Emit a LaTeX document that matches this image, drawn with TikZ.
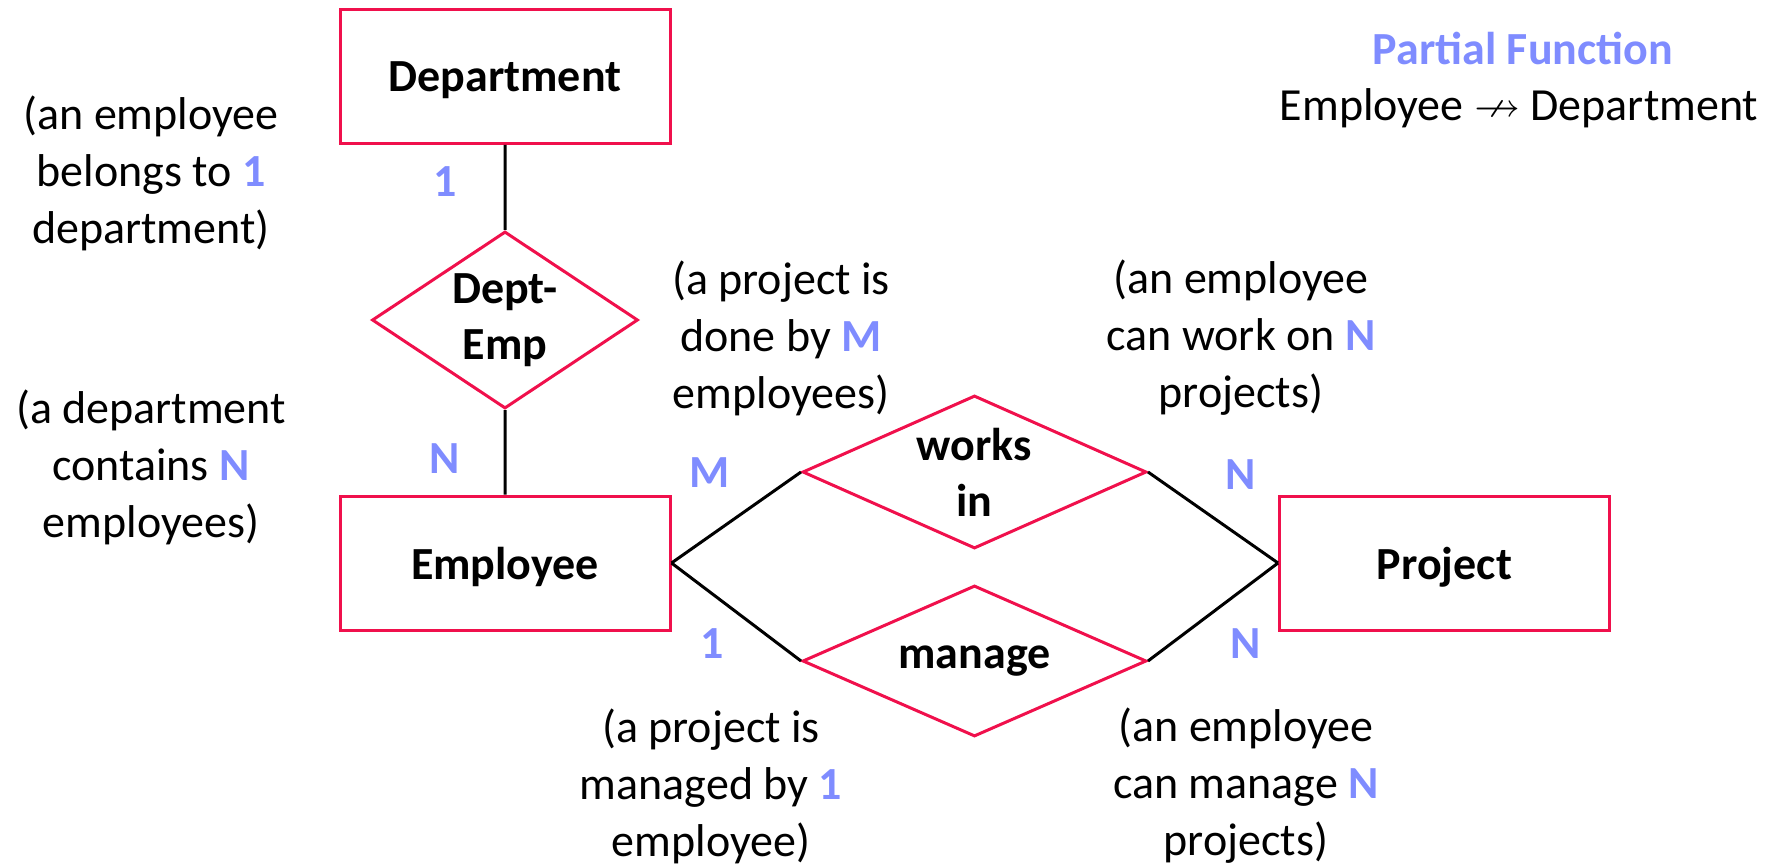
\documentclass[tikz,border=0pt]{standalone}
\usepackage{fontspec}
\setmainfont{Carlito}
\usepackage{amssymb}
\usetikzlibrary{positioning,shapes.geometric}

\definecolor{erred}{RGB}{240,16,76}
\definecolor{cardblue}{RGB}{127,140,255}
\newcommand{\bigtext}{\fontsize{46}{57}\selectfont}
\newcommand{\mult}[1]{\textcolor{cardblue}{\textbf{#1}}}

\tikzset{
  entity/.style={rectangle, draw=erred, line width=3pt, minimum width=330pt,
    minimum height=134pt, text depth=0pt, font=\bigtext\bfseries},
  relship/.style={diamond, draw=erred, line width=3pt, inner sep=0pt,
    align=center, font=\fontsize{46}{56}\selectfont\bfseries},
  note/.style={align=center, font=\bigtext},
  card/.style={text=cardblue, font=\bigtext\bfseries},
  link/.style={draw=black, line width=3pt}
}

\begin{document}
\begin{tikzpicture}[x=1pt, y=-1pt]
  \useasboundingbox (0,0) rectangle (1781,866);
  \node[entity] (dept) at (505,76.5) {Department};
  \node[relship, shape aspect=1.5, minimum width=266pt, minimum height=177pt] (deptemp) at (505,320) {Dept-\\Emp};
  \node[entity] (emp) at (505,563) {Employee};
  \node[entity] (proj) at (1444.5,563) {Project};
  \node[relship, shape aspect=2.25, minimum width=344pt, minimum height=153pt] (works) at (974.5,472) {works\\in};
  \node[relship, shape aspect=2.25, minimum width=344pt, minimum height=151pt] (manage) at (974.5,661) {manage};

  \path[link]
    (dept) -- (deptemp)
    (deptemp) -- (emp)
    (emp.east) -- (works.west)
    (emp.east) -- (manage.west)
    (proj.west) -- (works.east)
    (proj.west) -- (manage.east);

  % cardinalities
  \node[card] (c1) at (445,182) {1};
  \node[card] (c2) at (445,459) {N};
  \node[card] (c3) at (710,473) {M};
  \node[card] (c4) at (1241,475) {N};
  \node[card] (c5) at (712,644) {1};
  \node[card] (c6) at (1246,644) {N};

  % explanations
  \node[note] (n1) at (151,173) {(an employee\\belongs to \mult{1}\\department)};
  \node[note] (n2) at (151,467) {(a department\\contains \mult{N}\\employees)};
  \node[note] (n3) at (781,338) {(a project is\\done by \mult{M}\\employees)};
  \node[note] (n4) at (1241,338) {(an employee\\can work on \mult{N}\\projects)};
  \node[note] (n5) at (711,786) {(a project is\\managed by \mult{1}\\employee)};
  \node[note] (n6) at (1246,786) {(an employee\\can manage \mult{N}\\projects)};

  \node[card] (pf) at (1523,49) {Partial Function};
  \node[note] (sig) at (1519,108) {Employee $\nrightarrow$ Department};
\end{tikzpicture}
\end{document}
